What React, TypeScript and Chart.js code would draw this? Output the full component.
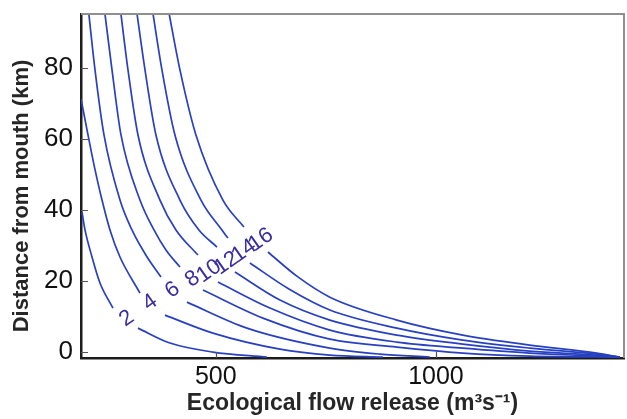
import React, { useEffect, useRef } from 'react';
import { Chart, registerables } from 'chart.js';

Chart.register(...registerables);

// ---- Data (flow release m3/s, distance from mouth km); null = label gap ----
const levels = ['2', '4', '6', '8', '10', '12', '14', '16'];

const flow2 = [196.3, 203.1, 219.0, 237.1, 266.6, null, 323.4, 396.0, 493.6, 616.1];
const dist2 = [39.4, 34.4, 26.8, 19.5, 12.4, null, 6.8, 2.6, 0.06, -1.35];

const flow4 = [194, 209.9, 223.5, 241.7, 259.8, 282.5, 327.9, null, 384.6, 493.6, 645.7, 759.1, 879.4];
const dist4 = [71.2, 61.1, 52.7, 42.8, 34.4, 26.8, 16.65, null, 10.46, 5.4, 0.9, -0.78, -1.35];

const flow6 = [210.2, 225.8, 246.2, 282.5, 309.7, 341.5, 375.6, null, 434.6, 570.8, 759.1, 872.6, 986.1];
const dist6 = [97, 79.4, 61.1, 42.8, 34.4, 27.3, 21.15, null, 14.1, 6.8, 1.18, -0.5, -1.35];

const flow8 = [246.5, 264.4, 284.8, 327.9, 359.7, 386.9, 418.7, null, 470.9, 607.1, 759.1, 911.2, 1061, 1213, 1417.3];
const dist8 = [97, 79.4, 61.1, 42.8, 34.4, 28.75, 23.97, null, 17.5, 9.62, 3.71, 1.46, -0.22, -1.07, -1.35];

const flow10 = [282.8, 300.7, 323.4, 373.3, 409.6, 459.5, null, 504.9, 623.0, 759.1, 911.2, 1061, 1213, 1365.1, 1417.3];
const dist10 = [97, 79.4, 61.1, 42.8, 34.4, 27.34, null, 19.75, 12.43, 6.25, 2.87, 1.18, -0.22, -1.07, -1.35];

const flow12 = [319.1, 339.3, 364.2, 418.7, 461.8, 502.7, null, 543.5, 645.7, 759.1, 911.2, 1061, 1213, 1365.1, 1417.3];
const dist12 = [97, 79.4, 61.1, 42.8, 34.4, 29.6, null, 22.56, 14.68, 9.06, 4.84, 2.31, 0.34, -0.78, -1.35];

const flow14 = [355.2, 377.8, 407.3, 466.4, 514.0, 527.6, null, 577.6, 666.1, 759.1, 911.2, 1061, 1213, 1365.1, 1417.3];
const dist14 = [97, 79.4, 61.1, 42.8, 34.4, 32.1, null, 25.1, 17.8, 11.9, 6.8, 3.43, 1.18, -0.5, -1.35];

const flow16 = [391.3, 418.7, 455.0, 516.3, 564.0, null, 618.4, 684.2, 759.1, 911.2, 1061, 1213, 1365.1, 1417.3];
const dist16 = [97, 79.4, 61.1, 42.8, 35.2, null, 28.2, 21.4, 15.5, 9.06, 4.84, 2.03, -0.22, -1.35];

const labelFlow = [297.7, 350.6, 401.7, 447, 484.5, 524.7, 564, 602.5];
const labelDist = [9.5, 14.0, 17.5, 20.6, 22.8, 25.0, 28.5, 31.6];

const xTicks = [500, 1000];
const yTicks = [0, 20, 40, 60, 80];

const X_MIN = 194;
const X_MAX = 1427;
const Y_MIN = -1.6;
const Y_MAX = 95.1;

const FONT = '"Liberation Sans", Arial, Helvetica, sans-serif';
const LINE_COLOR = '#2840c2';
const LABEL_COLOR = '#3a2d9f';

const curves: [(number | null)[], (number | null)[]][] = [
  [flow2, dist2],
  [flow4, dist4],
  [flow6, dist6],
  [flow8, dist8],
  [flow10, dist10],
  [flow12, dist12],
  [flow14, dist14],
  [flow16, dist16],
];

const decorPlugin = {
  id: 'decor',
  afterDraw(chart: any) {
    const { ctx, chartArea: a, scales } = chart;
    const x = scales.x;
    const y = scales.y;
    ctx.save();
    // top & right frame
    ctx.strokeStyle = '#8f8f8f';
    ctx.lineWidth = 2;
    ctx.beginPath();
    ctx.moveTo(a.left, a.top);
    ctx.lineTo(a.right, a.top);
    ctx.lineTo(a.right, a.bottom);
    ctx.stroke();
    // inward tick marks
    ctx.strokeStyle = '#555555';
    ctx.lineWidth = 1.2;
    ctx.beginPath();
    yTicks.forEach((v) => {
      const py = Math.round(y.getPixelForValue(v)) + 0.5;
      ctx.moveTo(a.left, py);
      ctx.lineTo(a.left + 7, py);
    });
    xTicks.forEach((v) => {
      const px = Math.round(x.getPixelForValue(v)) + 0.5;
      ctx.moveTo(px, a.bottom);
      ctx.lineTo(px, a.bottom - 6);
    });
    ctx.stroke();
    // contour labels
    ctx.fillStyle = LABEL_COLOR;
    ctx.font = `22px ${FONT}`;
    ctx.textAlign = 'center';
    ctx.textBaseline = 'middle';
    levels.forEach((t, i) => {
      const px = x.getPixelForValue(labelFlow[i]);
      const py = y.getPixelForValue(labelDist[i]);
      ctx.save();
      ctx.translate(px, py);
      ctx.rotate((-35 * Math.PI) / 180);
      ctx.fillText(t, 0, 0);
      ctx.restore();
    });
    // y axis title
    ctx.save();
    ctx.translate(22, 196);
    ctx.rotate(-Math.PI / 2);
    ctx.font = `bold 22px ${FONT}`;
    ctx.fillStyle = '#262626';
    ctx.textAlign = 'center';
    ctx.textBaseline = 'middle';
    ctx.fillText('Distance from mouth (km)', 0, 0);
    ctx.restore();
    ctx.restore();
  },
};

export default function App() {
  const ref = useRef<HTMLCanvasElement>(null);

  useEffect(() => {
    document.body.style.margin = '0';
    if (!ref.current) return;
    const datasets = curves.map(([xs, ys], i) => ({
      label: levels[i],
      data: xs.map((xv, j) => ({ x: xv, y: ys[j] })),
      showLine: true,
      borderColor: LINE_COLOR,
      backgroundColor: LINE_COLOR,
      borderWidth: 1.7,
      pointRadius: 0,
      pointHoverRadius: 0,
      cubicInterpolationMode: 'monotone' as const,
      spanGaps: false,
      fill: false,
    }));
    const chart = new Chart(ref.current, {
      type: 'scatter',
      data: { datasets: datasets as any },
      options: {
        animation: false,
        responsive: false,
        maintainAspectRatio: false,
        layout: { padding: { top: 14, right: 3, left: 0, bottom: 0 } },
        plugins: {
          legend: { display: false },
          tooltip: { enabled: false },
          title: { display: false },
        },
        scales: {
          x: {
            type: 'linear',
            min: X_MIN,
            max: X_MAX,
            afterBuildTicks: (s: any) => {
              s.ticks = xTicks.map((v) => ({ value: v }));
            },
            afterFit: (s: any) => {
              s.height = 61;
              s.paddingLeft = 0;
              s.paddingRight = 0;
            },
            grid: { display: false, drawTicks: false },
            border: { display: true, color: '#1c1c1c', width: 2.5 },
            ticks: {
              color: '#111111',
              font: { size: 25, family: FONT },
              padding: 4,
              maxRotation: 0,
              callback: (v: any) => String(v),
            },
            title: {
              display: true,
              text: 'Ecological flow release (m³s⁻¹)',
              color: '#262626',
              font: { size: 23, weight: 'bold', family: FONT },
              padding: { top: 0, bottom: 2 },
            },
          },
          y: {
            type: 'linear',
            min: Y_MIN,
            max: Y_MAX,
            afterBuildTicks: (s: any) => {
              s.ticks = yTicks.map((v) => ({ value: v }));
            },
            afterFit: (s: any) => {
              s.width = 81;
              s.paddingTop = 0;
              s.paddingBottom = 0;
            },
            grid: { display: false, drawTicks: false },
            border: { display: true, color: '#1c1c1c', width: 2.5 },
            ticks: {
              color: '#111111',
              font: { size: 26, family: FONT },
              padding: 8,
              callback: (v: any) => String(v),
            },
          },
        },
      },
      plugins: [decorPlugin],
    });
    return () => chart.destroy();
  }, []);

  return (
    <div style={{ width: 627, height: 419, position: 'relative' }}>
      <canvas ref={ref} width={627} height={419} style={{ display: 'block' }} />
    </div>
  );
}
